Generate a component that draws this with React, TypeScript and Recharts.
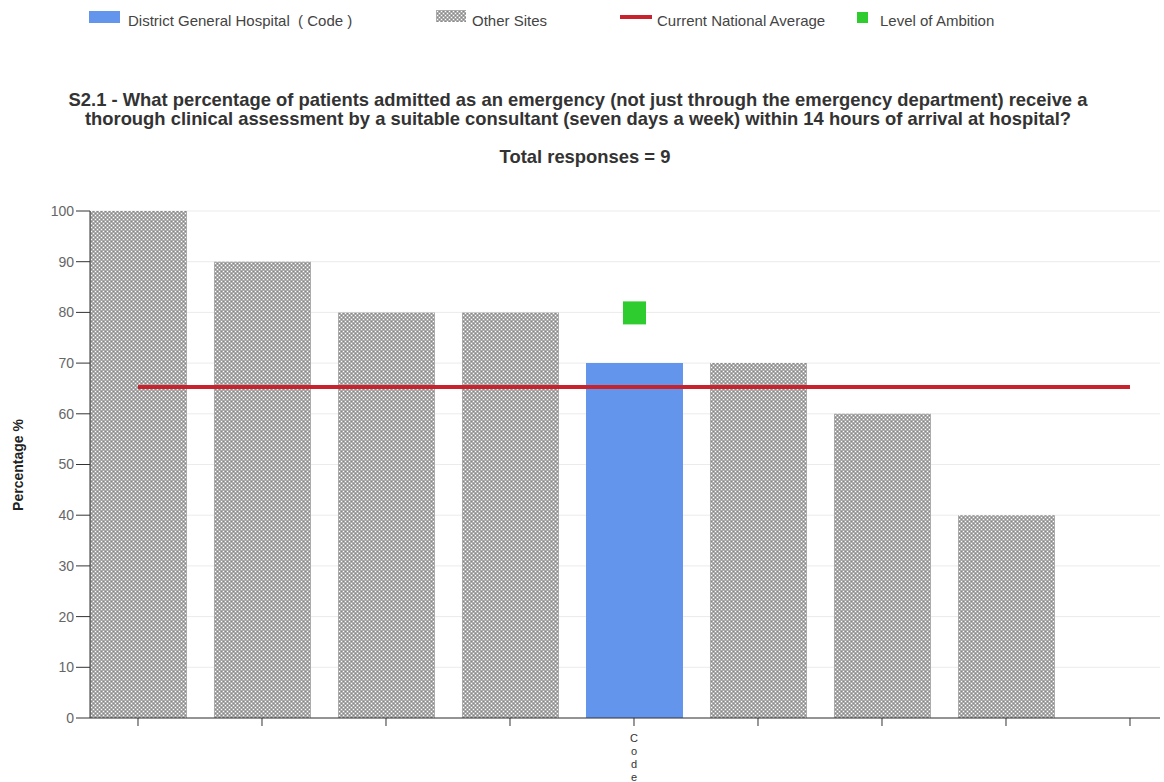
import React from 'react';
import {
  ComposedChart, Bar, Line, Scatter, XAxis, YAxis, CartesianGrid, Cell,
} from 'recharts';

const sites = ['', '', '', '', 'Code', '', '', '', ''];
const siteValues = [100, 90, 80, 80, 70, 70, 60, 40, null];
const highlightIndex = 4;
const nationalAverage = 65.3;
const ambitionPoints = [{ idx: 4, ambition: 80 }];
const yTicks = [0, 10, 20, 30, 40, 50, 60, 70, 80, 90, 100];
const xTicks = [0, 1, 2, 3, 4, 5, 6, 7, 8];

const titleLines = [
  'S2.1 - What percentage of patients admitted as an emergency (not just through the emergency department) receive a',
  'thorough clinical assessment by a suitable consultant (seven days a week) within 14 hours of arrival at hospital?',
];
const totalText = 'Total responses = 9';

const data = sites.map((name, i) => ({
  idx: i,
  name,
  value: siteValues[i],
  avg: nationalAverage,
}));

const BLUE = '#6495ed';
const RED = '#c8232c';
const GREEN = '#2ecc2e';
const FONT = '"Liberation Sans", Arial, sans-serif';

// vertical, letter-by-letter tick label like the original
const CodeTick = (props: any) => {
  const { x, y, payload } = props;
  const label = sites[payload.value] || '';
  return (
    <g>
      {label.split('').map((ch, i) => (
        <text key={i} x={x} y={y + 14 + i * 13} textAnchor="middle"
          fontSize={11} fontFamily={FONT} fill="#333">
          {ch}
        </text>
      ))}
    </g>
  );
};

const SquareShape = (props: any) => {
  const { cx, cy } = props;
  return <rect x={cx - 11} y={cy - 11} width={23} height={23} fill={GREEN} />;
};

const HatchDefs = () => (
  <defs>
    <pattern id="hatch" width="4" height="4" patternUnits="userSpaceOnUse">
      <rect width="4" height="4" fill="#ababab" />
      <rect x="1" y="1" width="1" height="1" fill="#fff" />
      <rect x="3" y="3" width="1" height="1" fill="#fff" />
      <rect x="3" y="1" width="1" height="1" fill="#888" />
      <rect x="1" y="3" width="1" height="1" fill="#888" />
    </pattern>
  </defs>
);

const legendText: React.CSSProperties = {
  position: 'absolute', fontSize: 15, fontFamily: FONT, color: '#444', top: 12, lineHeight: '18px',
};

const titleStyle: React.CSSProperties = {
  position: 'absolute', left: 0, width: 1156, textAlign: 'center', fontFamily: FONT,
  fontWeight: 'bold', fontSize: 18.4, color: '#333', lineHeight: '19px',
};

export default function App() {
  return (
    <div style={{ position: 'absolute', left: 0, top: 0, width: 1164, height: 782, background: '#fff', overflow: 'hidden' }}>
      <svg width={0} height={0} style={{ position: 'absolute' }}><HatchDefs /></svg>
      {/* legend */}
      <div style={{ position: 'absolute', left: 89, top: 11, width: 31, height: 12, background: BLUE }} />
      <div style={{ ...legendText, left: 128 }}>District General Hospital&nbsp;&nbsp;( Code )</div>
      <svg style={{ position: 'absolute', left: 436, top: 10 }} width={30} height={12}>
        <rect width={30} height={12} fill="url(#hatch)" />
      </svg>
      <div style={{ ...legendText, left: 472 }}>Other Sites</div>
      <div style={{ position: 'absolute', left: 620, top: 15, width: 32, height: 4, background: RED }} />
      <div style={{ ...legendText, left: 657 }}>Current National Average</div>
      <div style={{ position: 'absolute', left: 857, top: 12, width: 11, height: 11, background: GREEN }} />
      <div style={{ ...legendText, left: 880 }}>Level of Ambition</div>

      {/* title */}
      <div style={{ ...titleStyle, top: 90 }}>
        {titleLines.map((l, i) => <div key={i}>{l}</div>)}
      </div>
      <div style={{ ...titleStyle, width: 1170, top: 147 }}>{totalText}</div>
      <div style={{ position: 'absolute', left: 18, top: 465, transform: 'translate(-50%, -50%) rotate(-90deg)', fontFamily: FONT, fontWeight: 'bold', fontSize: 14, color: '#222', whiteSpace: 'nowrap' }}>
        Percentage %
      </div>

      <div style={{ position: 'absolute', left: 0, top: 0 }}>
        <ComposedChart width={1164} height={782} data={data}
          margin={{ top: 211, right: 4, bottom: 4, left: 30 }}>
          <CartesianGrid horizontal vertical={false} stroke="#ebebeb" />
          <XAxis dataKey="idx" type="number" domain={[-0.387, 8.242]} ticks={xTicks}
            allowDataOverflow tick={<CodeTick />} tickSize={8} height={60}
            axisLine={{ stroke: '#333' }} tickLine={{ stroke: '#333' }} interval={0} />
          <YAxis domain={[0, 100]} ticks={yTicks} width={60} tickSize={14}
            axisLine={{ stroke: '#333' }} tickLine={{ stroke: '#333' }}
            tick={{ fill: '#666', fontSize: 14, fontFamily: FONT }} />
          <Bar dataKey="value" barSize={97} isAnimationActive={false}>
            {data.map((_, i) => (
              <Cell key={`cell-${i}`} fill={i === highlightIndex ? BLUE : 'url(#hatch)'} />
            ))}
          </Bar>
          <Line dataKey="avg" stroke={RED} strokeWidth={4} dot={false} activeDot={false}
            isAnimationActive={false} type="linear" />
          <Scatter data={ambitionPoints} dataKey="ambition" shape={<SquareShape />}
            isAnimationActive={false} />
        </ComposedChart>
      </div>
    </div>
  );
}
